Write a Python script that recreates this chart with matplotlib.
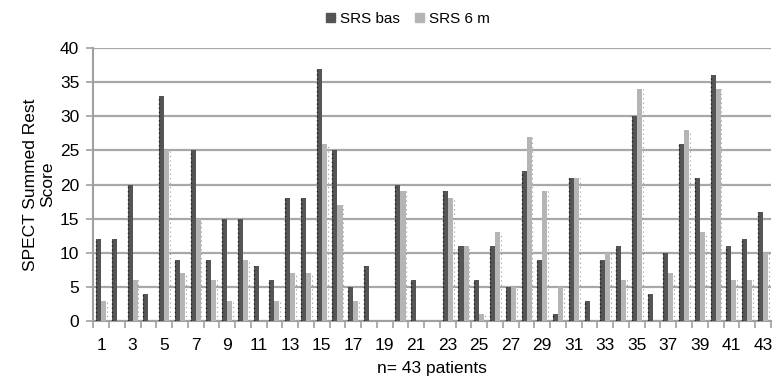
import numpy as np
import matplotlib
matplotlib.use("Agg")
import matplotlib.pyplot as plt
from matplotlib.patches import Patch

patients = list(range(1, 44))
srs_bas = [12, 12, 20, 4, 33, 9, 25, 9, 15, 15, 8, 6, 18, 18, 37, 25, 5, 8, 0, 20, 6, 0,
           19, 11, 6, 11, 5, 22, 9, 1, 21, 3, 9, 11, 30, 4, 10, 26, 21, 36, 11, 12, 16]
srs_6m = [3, 0, 6, 0, 25, 7, 15, 6, 3, 9, 0, 3, 7, 7, 26, 17, 3, 0, 0, 19, 0, 0,
          18, 11, 1, 13, 5, 27, 19, 5, 21, 0, 10, 6, 34, 0, 7, 28, 13, 34, 6, 6, 10]

plt.rcParams['font.family'] = ['Liberation Sans', 'DejaVu Sans']

fig = plt.figure(figsize=(7.77, 3.85), dpi=100)
ax = fig.add_axes([0.12, 0.166, 0.872, 0.709])

x = np.array(patients)
w = 0.32
dark = "#555555"
light = "#b5b5b5"
ax.bar(x - 0.16, srs_bas, w, color=dark, zorder=3)
ax.bar(x + 0.16, srs_6m, w, color=light, zorder=3)
# dotted shadow edges like the original 3D-ish rendering
for xi, a, b in zip(x, srs_bas, srs_6m):
    if a > 0:
        ax.plot([xi - 0.16 - w / 2] * 2, [0, a], ls=(0, (1, 2)), color="#222222", lw=1, zorder=4)
    if b > 0:
        ax.plot([xi + 0.16 + w / 2 + 0.05] * 2, [0, b], ls=(0, (1, 3)), color="#999999", lw=0.8, zorder=2)

ax.set_xlim(0.5, 43.5)
ax.set_ylim(0, 40)
ax.set_yticks(range(0, 41, 5))
ax.set_xticks(range(1, 44, 2))
ax.set_xticks(np.arange(0.5, 44, 1), minor=True)
ax.tick_params(axis="x", which="major", length=0, labelsize=12.5, pad=12)
ax.tick_params(axis="x", which="minor", length=5, color="#a0a0a0", width=1.2, direction="out")
ax.tick_params(axis="y", length=5, color="#a0a0a0", width=1.2, labelsize=12.5, pad=5)
ax.yaxis.grid(True, color="#a8a8a8", lw=1.6, zorder=0)
for s in ["top", "right"]:
    ax.spines[s].set_visible(False)
for s in ["left", "bottom"]:
    ax.spines[s].set_color("#a0a0a0")
    ax.spines[s].set_linewidth(1.5)

ax.set_ylabel("SPECT Summed Rest\nScore", fontsize=12.5, labelpad=3)
ax.set_xlabel("n= 43 patients", fontsize=12.5, labelpad=6)

handles = [Patch(color=dark, label="SRS bas"), Patch(color=light, label="SRS 6 m")]
fig.legend(handles=handles, loc="upper center", bbox_to_anchor=(0.525, 1.005), ncol=2,
           frameon=False, fontsize=11, handlelength=0.6, handleheight=0.6, handletextpad=0.3,
           columnspacing=1.0)

fig.savefig("out.png", dpi=100)
